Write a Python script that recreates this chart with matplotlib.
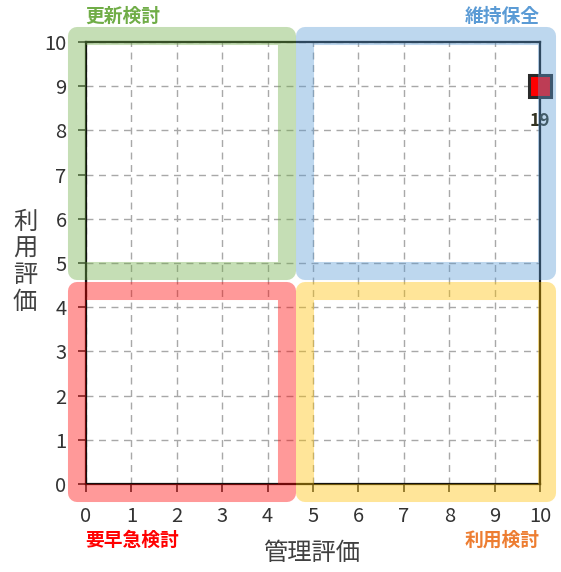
import matplotlib
matplotlib.use('Agg')
import matplotlib.pyplot as plt
from matplotlib.patches import Rectangle

plt.rcParams['font.family'] = ['Noto Sans CJK JP', 'DejaVu Sans']

# data
points_x = [10]
points_y = [9]
point_labels = ['19']
ticks = list(range(0, 11))
x_label = '管理評価'
y_label = '利用評価'
quadrant_names = ['更新検討', '維持保全', '要早急検討', '利用検討']
quadrant_colors = ['#70AD47', '#5B9BD5', '#FF0000', '#FFC000']
label_colors = ['#70AD47', '#5B9BD5', '#FF0000', '#ED7D31']

fig = plt.figure(figsize=(5.61, 5.72), dpi=100)
ax = fig.add_axes([86 / 561, 88 / 572, 454 / 561, 442 / 572])

ax.set_xlim(0, 10)
ax.set_ylim(0, 10)
ax.set_xticks(ticks)
ax.set_yticks(ticks)
ax.grid(True, linestyle=(0, (5, 4)), color='#A8A8A8', linewidth=1)
ax.tick_params(direction='out', length=6, width=1.2, color='#333333',
               labelsize=14.5, labelcolor='#333333', pad=8)
ax.tick_params(axis='x', pad=10)
for s in ax.spines.values():
    s.set_linewidth(1.6)
    s.set_color('#111111')

# quadrant frames (x0, y0, x1, y1) in data units
frames = [(-0.2, 4.82, 4.42, 10.14), (4.82, 4.82, 10.15, 10.14),
          (-0.2, -0.2, 4.42, 4.37), (4.82, -0.2, 10.15, 4.37)]
for (x0, y0, x1, y1), c in zip(frames, quadrant_colors):
    ax.add_patch(Rectangle((x0, y0), x1 - x0, y1 - y0, fill=False,
                           edgecolor=c, linewidth=13, alpha=0.4,
                           joinstyle='round', clip_on=False, zorder=3))

ax.plot(points_x, points_y, 's', markersize=15.5, markerfacecolor='#FF0000',
        markeredgecolor='#2a2a2a', markeredgewidth=2.2, clip_on=False, zorder=2.6)
for x, y, t in zip(points_x, points_y, point_labels):
    ax.annotate(t, (x, y), xytext=(0, -25), textcoords='offset points',
                ha='center', va='center', fontsize=12.5, fontweight='bold',
                color='#333322', annotation_clip=False, zorder=2.7)

# quadrant names
name_pos = [(85, 16, 'left'), (540, 16, 'right'),
            (85, 540, 'left'), (540, 540, 'right')]
for (px, py, ha), name, c in zip(name_pos, quadrant_names, label_colors):
    fig.text(px / 561, 1 - py / 572, name, color=c, fontsize=13.5,
             fontweight='bold', ha=ha, va='center')

fig.text(312 / 561, 1 - 553 / 572, x_label, fontsize=17.5, color='#404040',
         ha='center', va='center')
fig.text(25 / 561, 1 - 262 / 572, '\n'.join(y_label), fontsize=17.5,
         color='#404040', ha='center', va='center', linespacing=1.02)

fig.savefig('out.png', dpi=100)
